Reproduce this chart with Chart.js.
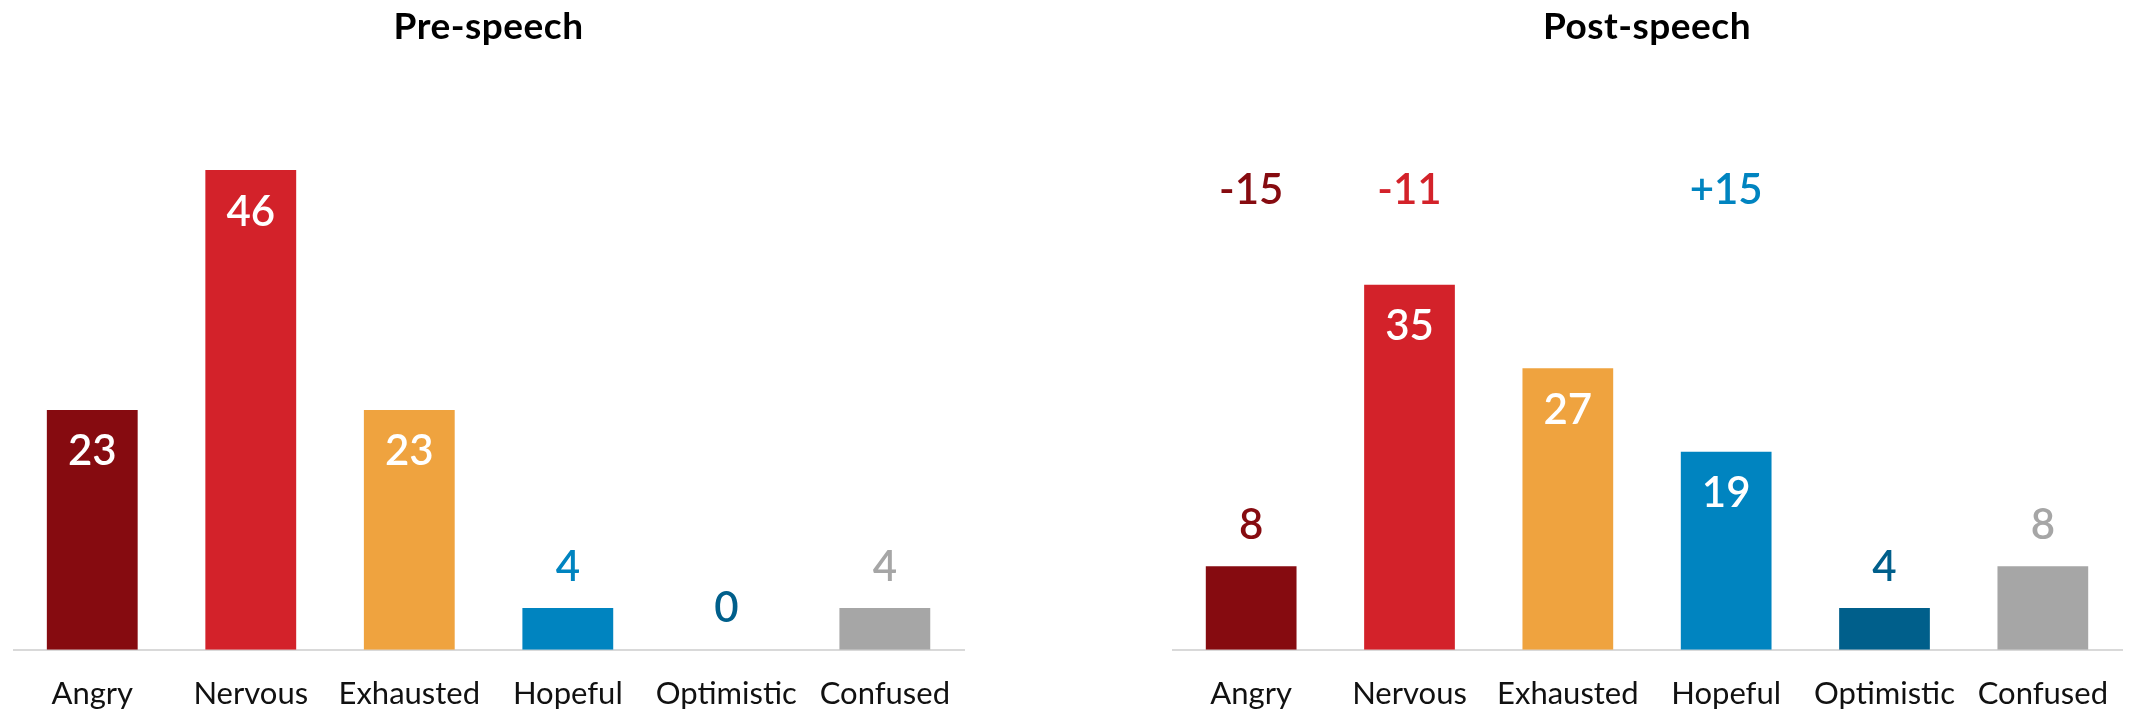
<!DOCTYPE html>
<html>
<head>
<meta charset="utf-8">
<script src="https://cdn.jsdelivr.net/npm/chart.js@4.4.1/dist/chart.umd.min.js"></script>
<style>
  html, body { margin: 0; padding: 0; background: #ffffff; }
  body { width: 2134px; height: 713px; position: relative; overflow: hidden; }
  .panel { position: absolute; top: 0; height: 740px; }
</style>
</head>
<body>
<div class="panel" style="left:13px;width:963px;"><canvas id="pre" width="963" height="740"></canvas></div>
<div class="panel" style="left:1172px;width:962px;"><canvas id="post" width="962" height="740"></canvas></div>
<script>
// ---- data ----
const categories = ["Angry", "Nervous", "Exhausted", "Hopeful", "Optimistic", "Confused"];
const preValues = [23, 46, 23, 4, 0, 4];
const postValues = [8, 35, 27, 19, 4, 8];
const postChanges = ["-15", "-11", "", "+15", "", ""];
const titles = ["Pre-speech", "Post-speech"];
const barColors = ["#860B10", "#D3222A", "#EFA33F", "#0084C0", "#005F8B", "#A6A6A6"];
const yMax = 60;
const insideThreshold = 10;
const changeLabelLevel = 44;

const FONT = "Lato, 'Open Sans', sans-serif";

function labelPlugin(title, changes) {
  return {
    id: 'customLabels',
    afterDatasetsDraw(chart) {
      const ctx = chart.ctx;
      const meta = chart.getDatasetMeta(0);
      const data = chart.data.datasets[0].data;
      const yScale = chart.scales.y;
      ctx.save();
      ctx.textAlign = 'center';
      ctx.textBaseline = 'middle';
      ctx.font = "600 42px " + FONT;
      meta.data.forEach((bar, i) => {
        const v = data[i];
        if (v >= insideThreshold) {
          ctx.fillStyle = '#ffffff';
          ctx.fillText(String(v), bar.x, bar.y + 42);
        } else {
          ctx.fillStyle = barColors[i];
          ctx.fillText(String(v), bar.x, bar.y - 41);
        }
        if (changes && changes[i]) {
          ctx.fillStyle = barColors[i];
          ctx.fillText(changes[i], bar.x, yScale.getPixelForValue(changeLabelLevel));
        }
      });
      // title
      const ca = chart.chartArea;
      ctx.fillStyle = '#000000';
      ctx.font = "bold 37px " + FONT;
      try { ctx.letterSpacing = '0.5px'; } catch (e) {}
      ctx.fillText(title, (ca.left + ca.right) / 2, 27);
      ctx.restore();
    }
  };
}

function makeChart(id, values, title, changes) {
  return new Chart(document.getElementById(id), {
    type: 'bar',
    data: {
      labels: categories,
      datasets: [{
        data: values,
        backgroundColor: barColors,
        borderWidth: 0,
        barPercentage: 0.573,
        categoryPercentage: 1.0
      }]
    },
    options: {
      responsive: false,
      devicePixelRatio: 1,
      animation: false,
      layout: { padding: { top: 24, bottom: 1, left: 0, right: 0 } },
      plugins: { legend: { display: false }, tooltip: { enabled: false }, title: { display: false } },
      scales: {
        x: {
          offset: true,
          grid: { display: false, drawTicks: false },
          border: { display: true, color: '#d9d9d9', width: 2 },
          ticks: { color: '#111111', font: { family: FONT, size: 31 }, padding: 26, maxRotation: 0, autoSkip: false }
        },
        y: { display: false, min: 0, max: yMax }
      }
    },
    plugins: [labelPlugin(title, changes)]
  });
}

makeChart('pre', preValues, titles[0], null);
makeChart('post', postValues, titles[1], postChanges);
</script>
</body>
</html>
